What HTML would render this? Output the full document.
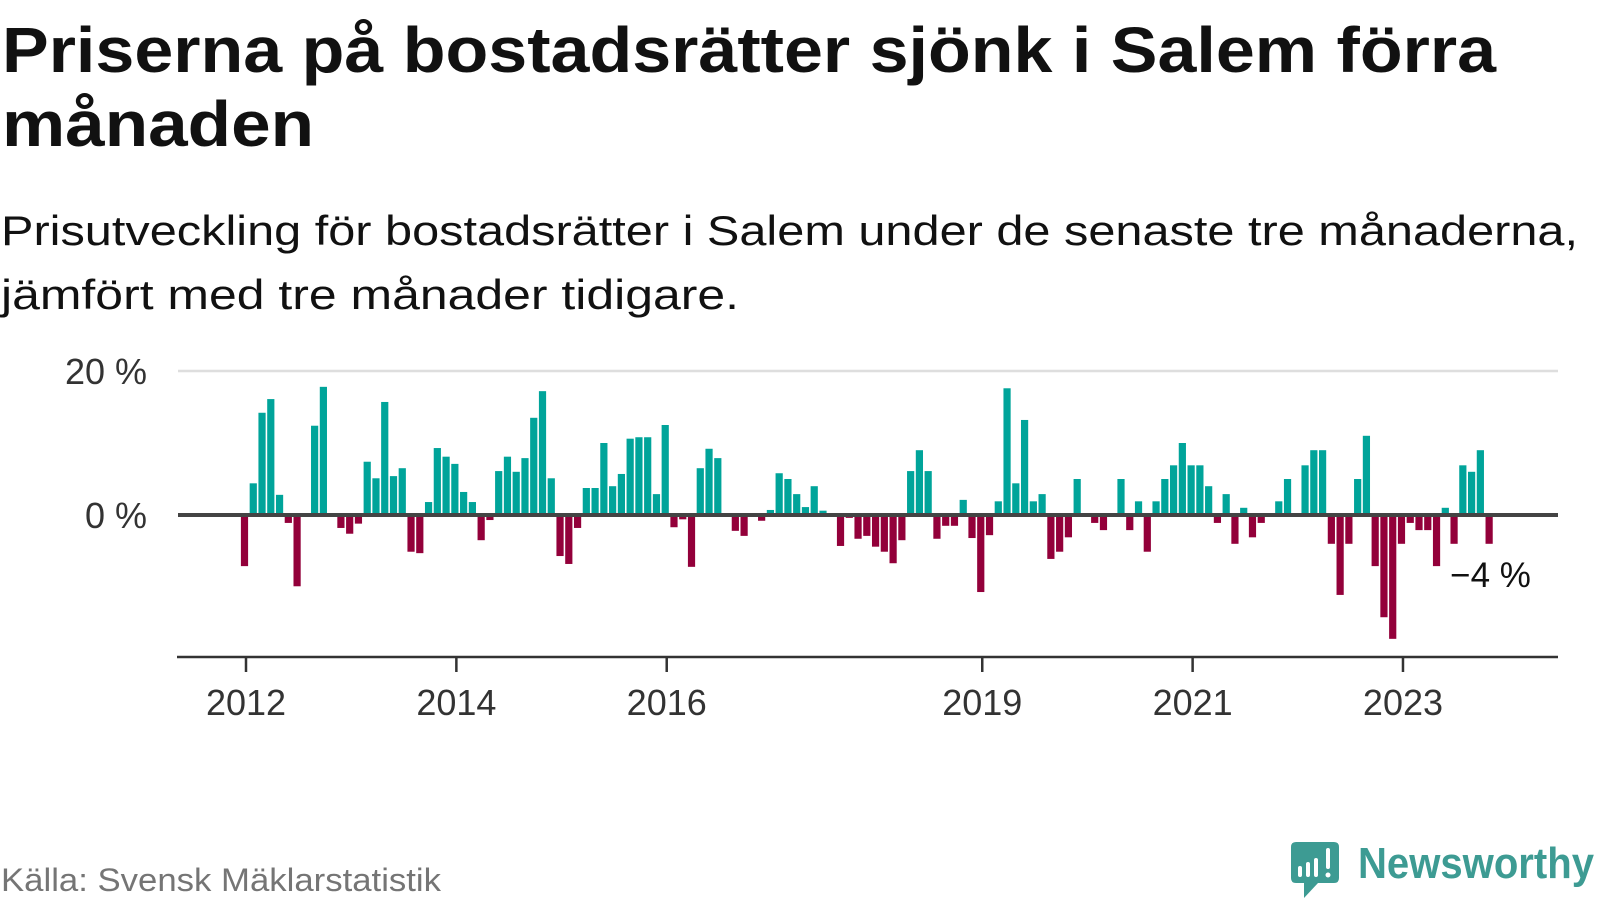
<!DOCTYPE html>
<html><head><meta charset="utf-8"><style>
html,body{margin:0;padding:0;background:#fff;}
svg{display:block;font-family:"Liberation Sans",sans-serif;}
</style></head><body>
<svg width="1600" height="900" viewBox="0 0 1600 900">
<text x="2" y="72" font-size="64" font-weight="bold" fill="#111" textLength="1494" lengthAdjust="spacingAndGlyphs">Priserna på bostadsrätter sjönk i Salem förra</text>
<text x="2" y="146" font-size="64" font-weight="bold" fill="#111" textLength="312" lengthAdjust="spacingAndGlyphs">månaden</text>
<text x="1" y="245" font-size="42" fill="#111" textLength="1577" lengthAdjust="spacingAndGlyphs">Prisutveckling för bostadsrätter i Salem under de senaste tre månaderna,</text>
<text x="1" y="309" font-size="42" fill="#111" textLength="738" lengthAdjust="spacingAndGlyphs">jämfört med tre månader tidigare.</text>
<g id="plot"></g>
<text x="1" y="891" font-size="32" fill="#757575" textLength="440" lengthAdjust="spacingAndGlyphs">Källa: Svensk Mäklarstatistik</text>
<g>
<path d="M1296 842 H1334 Q1339 842 1339 847 V878 Q1339 883 1334 883 H1318 L1304 898 L1304 883 H1296 Q1291 883 1291 878 V847 Q1291 842 1296 842 Z" fill="#3d9b93"/>
<rect x="1298" y="866" width="4" height="11" fill="#fff" rx="2"/>
<rect x="1306" y="862" width="4" height="15" fill="#fff" rx="2"/>
<rect x="1314" y="858" width="4" height="19" fill="#fff" rx="2"/>
<rect x="1326" y="848" width="4" height="21" fill="#fff" rx="2"/>
<circle cx="1328" cy="875" r="2.5" fill="#fff"/>
<text x="1358" y="878" font-size="44" font-weight="bold" fill="#3d9b93" textLength="236" lengthAdjust="spacingAndGlyphs">Newsworthy</text>
</g>
</svg>
<script>
const values = [
-7.1,4.4,14.2,16.1,2.8,-1.1,-9.9,0,12.4,17.8,0,-1.8,
-2.6,-1.2,7.4,5.1,15.7,5.4,6.5,-5.1,-5.3,1.8,9.3,8.1,
7.1,3.2,1.8,-3.5,-0.7,6.1,8.1,6.0,7.9,13.5,17.2,5.1,
-5.7,-6.8,-1.8,3.75,3.75,10.0,4.0,5.7,10.6,10.8,10.8,2.9,
12.5,-1.7,-0.6,-7.2,6.5,9.2,7.9,0,-2.2,-2.9,0,-0.8,
0.7,5.8,5.0,2.9,1.1,4.0,0.6,0,-4.3,-0.4,-3.3,-2.9,
-4.4,-5.1,-6.7,-3.5,6.1,9.0,6.1,-3.3,-1.5,-1.5,2.1,-3.2,
-10.7,-2.8,1.9,17.6,4.4,13.2,1.9,2.9,-6.1,-5.1,-3.1,5.0,
0,-1.1,-2.1,0,5.0,-2.1,1.9,-5.1,1.9,5.0,6.9,10.0,
6.9,6.9,4.0,-1.1,2.9,-4.0,1.0,-3.1,-1.1,0,1.9,5.0,
0,6.9,9.0,9.0,-4.0,-11.1,-4.0,5.0,11.0,-7.1,-14.2,-17.2,
-4.0,-1.1,-2.1,-2.1,-7.1,1.0,-4.0,6.9,6.0,9.0,-4.0
];
const yTicks = [0, 20];
const yTickLabels = ["0 %", "20 %"];
const xTickYears = [2012, 2014, 2016, 2019, 2021, 2023];
const lastLabel = "−4 %";

const NS = "http://www.w3.org/2000/svg";
const g = document.getElementById('plot');
const x = i => 244.5 + i * 8.765;
const yearX = yr => x((yr - 2012) * 12) + 1.5;
const y = v => 515 - v * 7.2;
function mk(tag, attrs){ const e = document.createElementNS(NS, tag); for (const k in attrs) e.setAttribute(k, attrs[k]); g.appendChild(e); return e; }

yTicks.forEach((t, i) => {
  if (t !== 0) {
    const l = mk('line', {x1:178, x2:1558, y1:y(t), y2:y(t), stroke:'#dedede', 'stroke-width':2.5});
    
    
  }
  const tx = mk('text', {x:147, y:y(t)+13, 'font-size':36, fill:'#333', 'text-anchor':'end'});
  
  
  tx.textContent = yTickLabels[i];
});

values.forEach((v, i) => {
  if (v === 0) return;
  const r = mk('rect', {x:x(i)-3.6, width:7.2, y:Math.min(y(v), y(0)), height:Math.abs(y(v)-y(0)), fill: v > 0 ? '#00a49a' : '#93003a'});
  
  
});

const zl = mk('line', {x1:178, x2:1558, y1:y(0), y2:y(0), stroke:'#444', 'stroke-width':4});



const ax = mk('line', {x1:177, x2:1558, y1:657, y2:657, stroke:'#333', 'stroke-width':2.5});



xTickYears.forEach(yr => {
  const t = mk('line', {x1:yearX(yr), x2:yearX(yr), y1:657, y2:672, stroke:'#333', 'stroke-width':2.5});
  
  
  const tx = mk('text', {x:yearX(yr), y:715, 'font-size':36, fill:'#333', 'text-anchor':'middle'});
  
  
  tx.textContent = String(yr);
});

const last = values.length - 1;
const lbl = mk('text', {x:x(last)-39, y:y(values[last])+43, 'font-size':35, fill:'#111'});


lbl.textContent = lastLabel;
</script>
</body></html>
